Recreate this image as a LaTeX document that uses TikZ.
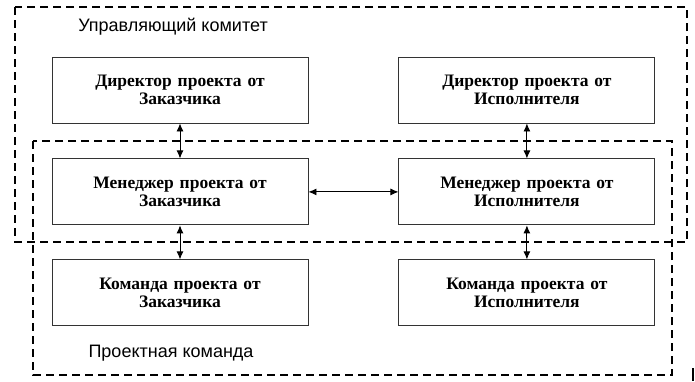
\documentclass[tikz,border=0pt]{standalone}
\usepackage{fontspec}
\setmainfont{Liberation Serif}
\newfontfamily\labelfont{Liberation Sans}
\usetikzlibrary{arrows.meta,positioning}

\begin{document}
\begin{tikzpicture}[
  x=1pt, y=-1pt,
  font=\fontsize{17.5}{17.5}\selectfont\bfseries,
  >={Latex[length=8pt,width=7pt]},
  role/.style={
    draw=black!80,
    line width=0.9pt,
    align=center,
    text width=240pt,
    minimum width=256pt,
    minimum height=66pt,
    inner sep=3pt
  },
  frame/.style={draw, dashed, line width=1.1pt, dash pattern=on 8pt off 5pt},
  grouplabel/.style={font=\labelfont\fontsize{18}{20}\selectfont},
  link/.style={<->, line width=0.9pt}
]
\useasboundingbox (0,0) rectangle (695,381);
% dashed groups
\draw[frame] (15,7) rectangle (687,242);
\draw[frame] (33,141) rectangle (672,375);
\node[grouplabel] (committee) at (173,27) {Управляющий комитет};
\node[grouplabel] (team) at (171,353) {Проектная команда};
% roles
\node[role] (dirC) at (180,90) {Директор проекта от\\Заказчика};
\node[role,below=35pt of dirC] (mgrC) {Менеджер проекта от\\Заказчика};
\node[role,below=34pt of mgrC] (teamC) {Команда проекта от\\Заказчика};
\node[role,right=90pt of dirC] (dirE) {Директор проекта от\\Исполнителя};
\node[role,right=90pt of mgrC] (mgrE) {Менеджер проекта от\\Исполнителя};
\node[role,right=90pt of teamC] (teamE) {Команда проекта от\\Исполнителя};
% links
\draw[link] (dirC) -- (mgrC);
\draw[link] (mgrC) -- (teamC);
\draw[link] (dirE) -- (mgrE);
\draw[link] (mgrE) -- (teamE);
\draw[link] (mgrC) -- (mgrE);
% mark at the lower right
\draw[line width=1.5pt] (693,368) -- (693,381);
\end{tikzpicture}
\end{document}
